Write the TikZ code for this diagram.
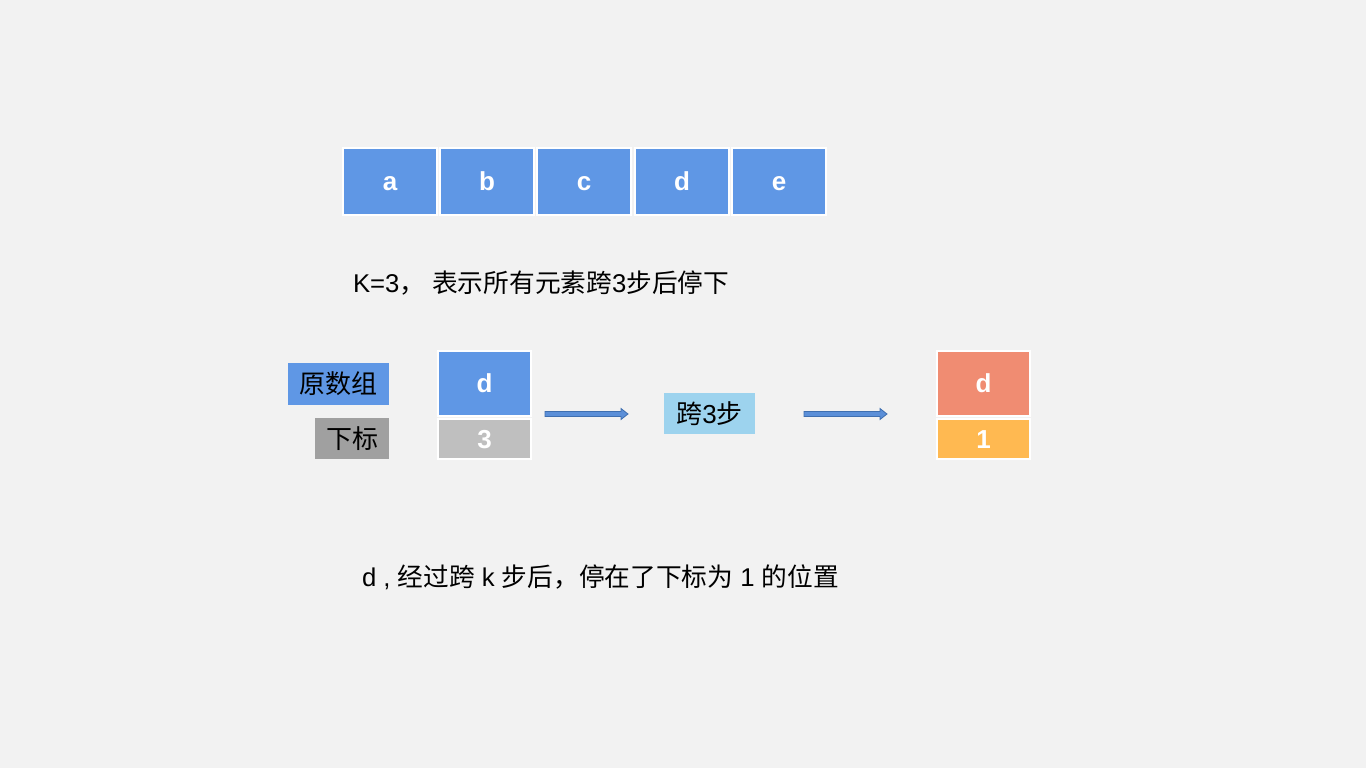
\documentclass[tikz,border=0pt]{standalone}
\usepackage{fontspec}
\setmainfont{Liberation Sans}
\newfontfamily\cjk{Noto Sans CJK SC}
\usetikzlibrary{calc}
\definecolor{bg}{HTML}{F2F2F2}
\definecolor{cblue}{HTML}{5F97E5}
\definecolor{cgray}{HTML}{BFBFBF}
\definecolor{dgray}{HTML}{A0A0A0}
\definecolor{lblue}{HTML}{9DD3EE}
\definecolor{salmon}{HTML}{F08C72}
\definecolor{orng}{HTML}{FFB951}
\definecolor{arrfill}{HTML}{5B8FD8}
\definecolor{arrline}{HTML}{3F6FB0}
\newcommand{\celltext}[1]{\vphantom{d}#1}
\tikzset{
  cell/.style={draw=white, line width=2pt, inner sep=0pt, outer sep=0pt,
    text=white, font=\fontsize{26}{26}\selectfont\bfseries, text depth=0pt},
  lab/.style={inner sep=0pt, outer sep=0pt, text=black, font=\fontsize{26}{26}\selectfont},
  txt/.style={inner sep=0pt, outer sep=0pt, anchor=west, text=black, font=\fontsize{25.7}{26}\selectfont},
  blockarrow/.style={fill=arrfill, draw=arrline, line width=0.8pt, line join=miter}
}
\begin{document}
\begin{tikzpicture}[x=1pt,y=-1pt]
\fill[bg] (0,0) rectangle (1366,768);
\useasboundingbox (0,0) rectangle (1366,768);
% top row
\foreach \n/\x in {a/390,b/487,c/584,d/682,e/779}{
  \node[cell, fill=cblue, minimum width=94pt, minimum height=67pt] (t\n) at (\x,181.5) {\celltext{\n}};
}
\node[txt] (k3) at (353,283) {K=3{\cjk ，} {\cjk 表示所有元素跨}3{\cjk 步后停下}};
% labels
\node[lab, fill=cblue, minimum width=101pt, minimum height=42pt] (yuan) at (338.5,384) {\cjk 原数组};
\node[lab, fill=dgray, minimum width=74pt, minimum height=41pt] (xia) at (352,438.5) {\cjk 下标};
% middle cells
\node[cell, fill=cblue, minimum width=93pt, minimum height=65pt] (md) at (484.5,383.5) {\celltext{d}};
\node[cell, fill=cgray, minimum width=93pt, minimum height=40pt] (m3) at (484.5,439) {\celltext{3}};
\node[lab, fill=lblue, minimum width=91pt, minimum height=41pt] (kua) at (709.5,413.5) {{\cjk 跨}3{\cjk 步}};
\node[cell, fill=salmon, minimum width=93pt, minimum height=65pt] (rd) at (983.5,383.5) {\celltext{d}};
\node[cell, fill=orng, minimum width=93pt, minimum height=40pt] (r1) at (983.5,439) {\celltext{1}};
% arrows
\coordinate (a1s) at (545,414);
\coordinate (a1e) at (628,414);
\coordinate (a2s) at (804,414);
\coordinate (a2e) at (887,414);
\foreach \s/\e in {a1s/a1e,a2s/a2e}{
  \draw[blockarrow] ($(\s)+(0,-2.5)$) -- ($(\e)+(-7,-2.5)$) -- ($(\e)+(-7,-5.5)$) -- (\e)
    -- ($(\e)+(-7,5.5)$) -- ($(\e)+(-7,2.5)$) -- ($(\s)+(0,2.5)$) -- cycle;
}
\node[txt] (bottom) at (362,577) {d , {\cjk 经过跨} k {\cjk 步后，停在了下标为} 1 {\cjk 的位置}};
\end{tikzpicture}
\end{document}
